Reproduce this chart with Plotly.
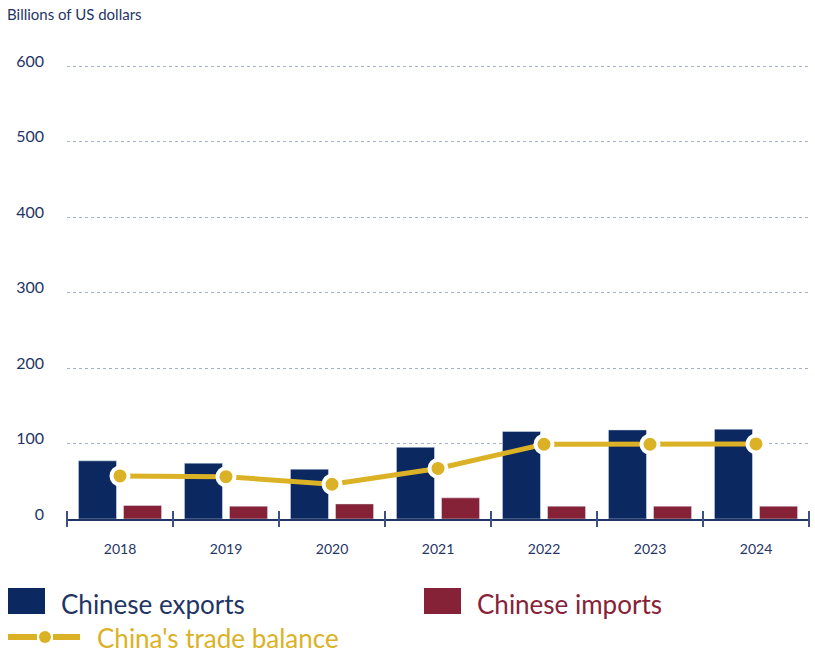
import plotly.graph_objects as go

# Annual trade figures, billions of US dollars
years = ["2018", "2019", "2020", "2021", "2022", "2023", "2024"]
exports = [77, 74, 66, 95, 116, 118, 119]
imports = [18, 17, 20, 28, 17, 17, 17]
balance = [57, 56, 46, 67, 99, 99, 99.5]
y_ticks = [0, 100, 200, 300, 400, 500, 600]

NAVY = "#0b2860"
RED = "#862238"
GOLD = "#dbb225"
TEXT = "#1f3566"
FONT = "Lato, sans-serif"

W, H = 815, 654
L, R, T, B = 67, 6, 58, 135
PW, PH = W - L - R, H - T - B
Y_MAX = 600 * PH / 453  # leaves a little headroom above the 600 gridline


def px(x):
    return (x - L) / PW


def py(y):
    return (H - B - y) / PH


fig = go.Figure()
fig.add_trace(go.Bar(x=years, y=exports, marker_color=NAVY, name="Chinese exports"))
fig.add_trace(go.Bar(x=years, y=imports, marker_color=RED, name="Chinese imports"))
fig.add_trace(go.Scatter(
    x=years, y=balance, mode="lines+markers", name="China's trade balance",
    line=dict(color=GOLD, width=5),
    marker=dict(color=GOLD, size=17, line=dict(color="white", width=4)),
    cliponaxis=False,
))

shapes = []
# tick marks crossing the category axis at each category boundary
n = len(years)
for i in range(n + 1):
    shapes.append(dict(type="line", xref="paper", yref="paper", x0=i / n, x1=i / n,
                       ysizemode="pixel", yanchor=0, y0=-8, y1=8,
                       line=dict(color="#3d5282", width=2)))

# legend swatches
shapes.append(dict(type="rect", xref="paper", yref="paper",
                   x0=px(8), x1=px(45), y0=py(588), y1=py(614),
                   fillcolor=NAVY, line=dict(width=0)))
shapes.append(dict(type="rect", xref="paper", yref="paper",
                   x0=px(424), x1=px(461), y0=py(588), y1=py(614),
                   fillcolor=RED, line=dict(width=0)))
shapes.append(dict(type="line", xref="paper", yref="paper",
                   x0=px(8), x1=px(37), y0=py(637), y1=py(637),
                   line=dict(color=GOLD, width=6)))
shapes.append(dict(type="line", xref="paper", yref="paper",
                   x0=px(53), x1=px(80), y0=py(637), y1=py(637),
                   line=dict(color=GOLD, width=6)))
shapes.append(dict(type="circle", xref="paper", yref="paper",
                   x0=px(39), x1=px(51), y0=py(631), y1=py(643),
                   fillcolor=GOLD, line=dict(width=0)))

annotations = [
    dict(text="Billions of US dollars", xref="paper", yref="paper",
         x=px(5), y=py(14), xanchor="left", yanchor="middle", showarrow=False,
         font=dict(family=FONT, size=15, color=TEXT)),
    dict(text="Chinese exports", xref="paper", yref="paper",
         x=px(59), y=py(604), xanchor="left", yanchor="middle", showarrow=False,
         font=dict(family=FONT, size=26, color=TEXT)),
    dict(text="Chinese imports", xref="paper", yref="paper",
         x=px(475), y=py(604), xanchor="left", yanchor="middle", showarrow=False,
         font=dict(family=FONT, size=26, color=RED)),
    dict(text="China's trade balance", xref="paper", yref="paper",
         x=px(95), y=py(638), xanchor="left", yanchor="middle", showarrow=False,
         font=dict(family=FONT, size=26, color=GOLD)),
]

fig.update_layout(
    width=W, height=H,
    margin=dict(l=L, r=R, t=T, b=B),
    paper_bgcolor="white", plot_bgcolor="white",
    barmode="group", bargap=0.15, bargroupgap=0.155,
    showlegend=False,
    shapes=shapes, annotations=annotations,
    font=dict(family=FONT, color=TEXT),
    xaxis=dict(
        type="category", showline=True, linecolor="#1f3566", linewidth=2,
        ticks="", showgrid=False, tickfont=dict(size=14, color=TEXT),
        ticklabelstandoff=16, range=[-0.5, n - 0.5],
    ),
    yaxis=dict(
        range=[0, Y_MAX], tickvals=y_ticks, ticktext=[str(v) for v in y_ticks],
        showgrid=True, gridcolor="#a7b1c6", griddash="dot", gridwidth=1,
        zeroline=False, showline=False, ticks="",
        tickfont=dict(size=16, color=TEXT), ticklabelstandoff=22,
        ticklabelshift=-5,
    ),
)

fig.write_html("out.html")
